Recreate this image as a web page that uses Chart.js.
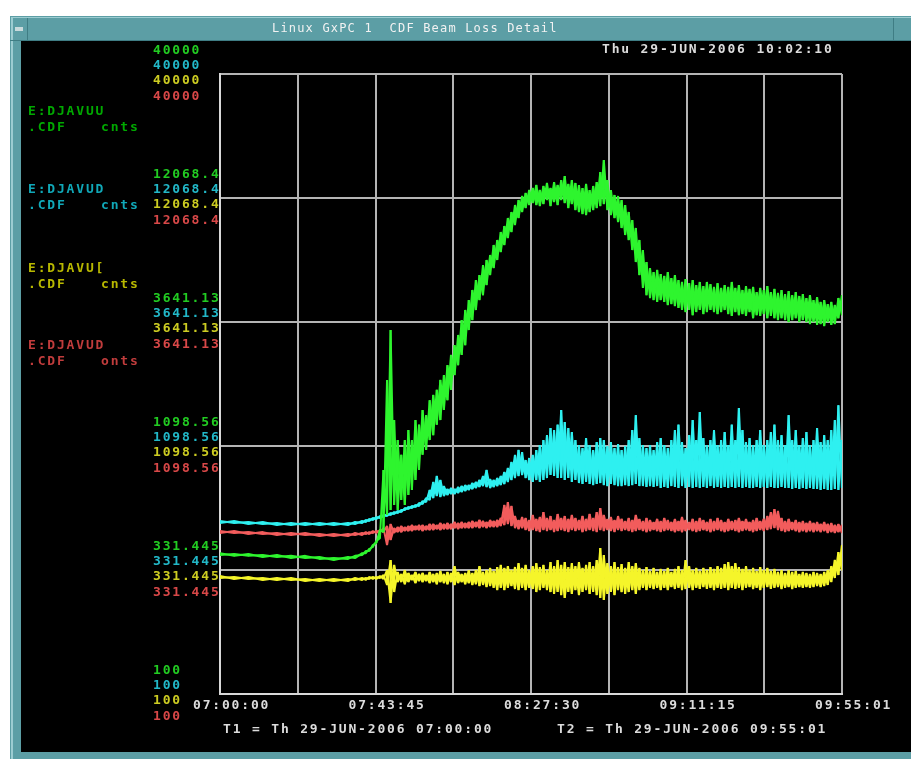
<!DOCTYPE html>
<html>
<head>
<meta charset="utf-8">
<script src="https://cdn.jsdelivr.net/npm/chart.js@4/dist/chart.umd.min.js"></script>
<style>
  html, body { margin: 0; padding: 0; background: #ffffff; overflow: hidden; }
  #wrap { position: relative; width: 911px; height: 759px; }
</style>
</head>
<body>
<div id="wrap"><canvas id="c" width="911" height="759"></canvas></div>
<script>
// Sample times, minutes after T1 (07:00:00). Each sample holds the peak and
// the base reading of the loss monitor over that interval.
const minutes = [
  0,4,8,12,16,20,24,28,32,36,38,
  40,41,42,43,44,45,46,47,48,49,
  50,51,52,53,54,55,56,57,58,59,
  60,61,62,63,64,65,66,67,68,69,
  70,71,72,73,74,75,76,77,78,79,
  80,81,82,83,84,85,86,87,88,89,
  90,91,92,93,94,95,96,97,98,99,
  100,101,102,103,104,105,106,107,108,109,
  110,111,112,113,114,115,116,117,118,119,
  120,121,122,123,124,125,126,127,128,129,
  130,131,132,133,134,135,136,137,138,139,
  140,141,142,143,144,145,146,147,148,149,
  150,151,152,153,154,155,156,157,158,159,
  160,161,162,163,164,165,166,167,168,169,
  170,171,172,173,174,175
];

// E:DJAVUU (green), counts
const greenPeak = [
  390,387,387,383,383,380,380,376,372,376,380,
  390,398,406,422,439,488,871,2080,3370,1412,
  1164,1010,1164,1282,1164,1412,1350,1556,1480,1710,
  1800,1890,2080,2180,2400,2650,2910,3210,3710,4090,
  4500,4960,5460,5730,6310,6630,6950,7660,8040,8680,
  9200,9940,10540,11270,11830,12300,12670,13030,13290,13680,
  13030,13550,13950,13290,14070,13680,14350,14910,13820,14350,
  13950,13680,13290,13820,13030,13550,14070,15500,17410,14350,
  13030,12420,12300,11830,11270,10540,9750,9030,8040,7300,
  6500,6130,5900,6020,5790,5680,5900,5570,5730,5460,
  5360,5510,5300,5460,5200,5360,5150,5360,5250,5110,
  5300,5060,5200,5110,5360,5060,5200,4960,5150,5010,
  5110,4860,5060,4960,5150,4860,5010,4820,4960,4770,
  4910,4720,4860,4680,4770,4590,4720,4500,4630,4420,
  4500,4330,4420,4290,4590,4720
];
const greenBase = [
  383,380,380,376,376,372,372,369,365,369,372,
  383,390,398,414,431,451,478,564,592,621,
  592,652,621,684,718,791,871,1010,1057,1164,
  1220,1350,1412,1556,1710,1890,2180,2400,2650,2910,
  3370,3710,4090,4500,4720,5200,5730,6130,6630,7160,
  7660,8200,8680,9290,9940,10540,10950,11270,11500,11270,
  11160,11380,11830,11160,11600,11270,11830,11500,10950,11380,
  10740,10540,10330,10230,10540,10740,10950,11160,11380,10740,
  10230,9940,9570,9030,8440,8040,7300,6500,5730,5060,
  4720,4590,4500,4420,4500,4420,4290,4330,4250,4170,
  4090,4010,4090,3890,4010,4090,3930,4010,4090,4010,
  3930,4010,4090,3930,3860,4010,3890,3930,3860,4010,
  3780,3890,3860,3930,3780,3860,3780,3710,3780,3710,
  3640,3710,3780,3640,3710,3640,3570,3640,3540,3570,
  3500,3640,3540,3570,3780,3890
];

// E:DJAVUD (cyan), counts
const cyanPeak = [
  532,532,527,527,522,522,522,522,522,522,527,
  532,537,543,548,553,558,564,569,575,580,
  586,592,603,609,615,621,633,645,664,718,
  776,822,791,746,725,732,725,739,746,753,
  753,768,776,791,822,871,798,791,806,822,
  854,888,941,1007,1057,1036,959,978,1007,1057,
  1109,1164,1220,1307,1282,1350,1556,1385,1307,1258,
  1164,1109,1077,1186,1109,1057,1142,1186,1164,1098,
  1142,1077,1120,1057,1098,1164,1282,1480,1186,1109,
  1077,1109,1057,1142,1186,1109,1077,1164,1282,1350,
  1142,1077,1220,1412,1164,1526,1186,1109,1164,1282,
  1109,1164,1258,1109,1350,1164,1586,1282,1142,1186,
  1109,1164,1282,1109,1164,1258,1350,1164,1220,1109,
  1480,1164,1282,1109,1186,1258,1109,1164,1307,1142,
  1220,1164,1282,1412,1630,1164
];
const cyanBase = [
  522,522,517,517,512,512,512,512,512,512,517,
  522,527,532,537,543,548,553,558,564,569,
  575,580,592,597,603,609,615,627,639,652,
  664,678,671,678,684,691,691,698,704,711,
  718,725,732,739,746,739,732,739,746,753,
  761,776,791,806,822,830,806,791,776,791,
  776,791,806,830,822,806,806,791,806,776,
  791,768,761,776,761,753,761,768,753,746,
  761,753,746,746,753,746,753,761,746,746,
  739,746,739,746,732,739,732,746,739,732,
  746,732,739,732,739,732,739,732,746,732,
  739,732,739,732,739,732,739,732,739,732,
  732,739,732,739,732,739,732,732,739,732,
  732,725,732,725,732,725,732,725,725,718,
  725,718,718,725,718,732
];

// E:DJAVUD (red), counts
const redPeak = [
  483,483,478,478,474,474,474,469,469,469,474,
  474,478,478,483,483,488,497,507,517,497,
  502,507,502,507,512,507,512,512,507,517,
  517,512,522,517,522,517,527,522,527,522,
  527,532,527,537,532,527,537,532,537,548,
  621,639,615,558,537,553,548,537,564,543,
  553,580,548,558,537,569,548,558,543,564,
  548,537,558,543,569,548,580,603,564,543,
  553,537,558,543,532,548,537,564,543,532,
  548,537,527,543,532,548,537,527,543,532,
  553,537,527,543,532,548,537,527,543,532,
  548,537,527,543,532,537,548,532,543,527,
  537,548,532,543,558,580,597,586,548,532,
  543,527,537,527,532,522,532,522,527,517,
  527,517,522,512,517,512
];
const redBase = [
  474,474,469,469,465,465,465,460,460,460,465,
  465,469,469,474,474,478,478,422,443,474,
  478,478,483,483,483,488,488,483,488,488,
  488,492,488,492,492,492,497,492,497,497,
  497,497,502,497,502,497,502,502,502,507,
  512,517,507,497,492,497,488,483,488,483,
  478,488,483,488,478,483,488,483,478,488,
  483,488,478,483,488,483,478,488,483,488,
  483,478,488,483,488,483,478,483,488,483,
  478,483,488,483,478,483,488,483,478,483,
  478,483,488,483,478,483,488,483,478,483,
  488,483,478,483,488,483,478,483,488,483,
  478,483,488,483,488,492,497,488,483,478,
  483,488,483,478,483,478,483,478,483,478,
  483,474,478,474,478,474
];

// E:DJAVU[ (yellow), counts
const yellowPeak = [
  313,310,310,307,307,307,304,304,304,304,307,
  307,307,310,310,310,313,316,331,365,348,
  325,319,331,322,316,325,319,322,316,325,
  319,322,328,319,325,322,344,325,319,322,
  331,322,331,344,325,331,338,328,341,348,
  338,344,331,341,354,338,348,331,344,354,
  341,348,331,358,344,365,348,358,341,354,
  344,358,338,348,358,344,365,410,383,354,
  344,358,341,351,338,358,344,354,338,331,
  341,328,338,325,335,328,338,325,335,344,
  331,365,344,331,338,328,338,331,341,335,
  344,338,351,358,344,354,341,335,344,331,
  338,328,341,331,338,328,335,325,331,322,
  331,325,328,319,325,322,319,325,322,319,
  325,331,344,365,394,422
];
const yellowBase = [
  307,304,304,301,301,301,298,298,298,298,301,
  301,301,304,304,304,307,304,287,241,268,
  295,295,289,295,301,292,298,295,298,292,
  295,289,295,292,289,295,287,292,295,289,
  292,287,289,284,287,281,284,279,273,279,
  273,279,284,276,273,279,273,279,276,268,
  273,279,273,268,263,268,260,253,268,263,
  273,260,268,273,263,268,260,253,248,263,
  268,260,273,268,263,268,273,263,273,279,
  273,279,276,279,273,279,273,281,276,279,
  273,276,279,273,279,276,281,276,279,273,
  279,276,279,273,279,276,279,273,279,281,
  276,279,273,279,281,276,279,281,276,279,
  281,276,279,281,279,281,279,281,284,281,
  284,287,295,307,316,331
];

// Vertical axis: log scale, labelled at these counts
const lossTicks = [100, 331.445, 1098.56, 3641.13, 12068.4, 40000];
const lossTickText = ["100", "331.445", "1098.56", "3641.13", "12068.4", "40000"];

// Horizontal axis: T1 .. T2, labelled every two grid divisions
const timeLabels = ["07:00:00", "07:43:45", "08:27:30", "09:11:15", "09:55:01"];
const SPAN_MIN = 10501 / 60;   // 07:00:00 -> 09:55:01
const GRID_DIVS = 8;

const deviceNames = ["E:DJAVUU", "E:DJAVUD", "E:DJAVU[", "E:DJAVUD"];
const deviceUnits = ["cnts", "cnts", "cnts", "onts"];

// trace order: green, cyan, yellow, red
const traceColors = ["#2ef52e", "#2ef0f0", "#f5f52a", "#f25c5c"];
const labelColors = ["#22cc22", "#22b8c8", "#cccc22", "#d84848"];
const nameColors  = ["#00a800", "#10a8b8", "#b8b800", "#c03c3c"];

const MONO = 'bold 13px "DejaVu Sans Mono", "Liberation Mono", monospace';
const ADV = 9.65;

// Each sample becomes a vertical stroke peak<->base; the two passes
// (peak first / base first) cross between samples so the trace reads as
// a dense noisy band.
function toPoints(first, second) {
  const pts = [];
  minutes.forEach((m, i) => {
    pts.push({ x: m, y: first[i] });
    pts.push({ x: m, y: second[i] });
  });
  return pts;
}

function monoText(ctx, text, x, y, adv) {
  for (let i = 0; i < text.length; i++) ctx.fillText(text[i], x + i * adv, y);
}

const framePlugin = {
  id: 'consoleFrame',
  beforeDraw(chart) {
    const ctx = chart.ctx, W = chart.width, H = chart.height;
    ctx.save();
    ctx.fillStyle = '#ffffff';
    ctx.fillRect(0, 0, W, H);
    // window border and title bar
    ctx.fillStyle = '#5c9ea5';
    ctx.fillRect(10, 16, W - 10, H - 16);
    ctx.fillStyle = '#9cccd1';
    ctx.fillRect(11, 17, 2, H - 17);
    ctx.fillRect(11, 17, W - 11, 1);
    ctx.fillStyle = '#3f7d84';
    ctx.fillRect(10, 40, W - 10, 1);
    ctx.fillRect(27, 18, 1, 22);
    ctx.fillRect(893, 18, 1, 22);
    ctx.fillStyle = '#c9dadc';
    ctx.fillRect(15, 27, 8, 4);
    ctx.fillStyle = '#000000';
    ctx.fillRect(21, 41, W - 21, 711);
    ctx.fillStyle = '#f2f2f2';
    ctx.font = '12px "DejaVu Sans Mono", monospace';
    ctx.textBaseline = 'middle';
    monoText(ctx, 'Linux GxPC 1  CDF Beam Loss Detail', 272, 29, 8.4);
    ctx.restore();
  },
  afterDraw(chart) {
    const ctx = chart.ctx;
    const xs = chart.scales.x, ys = chart.scales.y;
    ctx.save();
    ctx.font = MONO;
    ctx.textBaseline = 'middle';
    // stacked tick labels, one per trace
    const offsets = [-23, -8, 7, 23];
    lossTicks.forEach((v, k) => {
      const yp = ys.getPixelForValue(v);
      offsets.forEach((dy, s) => {
        ctx.fillStyle = labelColors[s];
        monoText(ctx, lossTickText[k], 153, yp + dy, ADV);
      });
    });
    // device names
    const nameY = [112, 190, 269, 346];
    deviceNames.forEach((n, s) => {
      ctx.fillStyle = nameColors[s];
      monoText(ctx, n, 28, nameY[s], ADV);
      monoText(ctx, '.CDF', 28, nameY[s] + 16, ADV);
      monoText(ctx, deviceUnits[s], 101, nameY[s] + 16, ADV);
    });
    // time axis
    ctx.fillStyle = '#dcdcdc';
    timeLabels.forEach((t, j) => {
      const xp = xs.getPixelForValue(j * SPAN_MIN / 4);
      monoText(ctx, t, xp - 27, 706, ADV);
    });
    monoText(ctx, 'T1 = Th 29-JUN-2006 07:00:00', 223, 730, ADV);
    monoText(ctx, 'T2 = Th 29-JUN-2006 09:55:01', 557, 730, ADV);
    monoText(ctx, 'Thu 29-JUN-2006 10:02:10', 602, 50, ADV);
    ctx.restore();
  }
};

// drawn top to bottom: green, cyan, red, yellow
const series = [
  { peak: greenPeak, base: greenBase, color: traceColors[0] },
  { peak: cyanPeak, base: cyanBase, color: traceColors[1] },
  { peak: redPeak, base: redBase, color: traceColors[3] },
  { peak: yellowPeak, base: yellowBase, color: traceColors[2] }
];

const datasets = [];
series.forEach(s => {
  datasets.push({ data: toPoints(s.peak, s.base), borderColor: s.color });
  datasets.push({ data: toPoints(s.base, s.peak), borderColor: s.color });
});

new Chart(document.getElementById('c'), {
  type: 'line',
  data: { datasets },
  options: {
    responsive: false,
    animation: false,
    devicePixelRatio: 1,
    layout: { padding: { left: 220, top: 74, right: 69, bottom: 65 } },
    plugins: { legend: { display: false }, tooltip: { enabled: false } },
    elements: {
      line: { borderWidth: 2, tension: 0, fill: false, borderJoinStyle: 'bevel' },
      point: { radius: 0 }
    },
    scales: {
      x: {
        type: 'linear', min: 0, max: SPAN_MIN,
        ticks: { display: false },
        grid: { color: '#b4b4b4', lineWidth: 2, drawTicks: false },
        border: { display: true, color: '#d8d8d8', width: 2 },
        afterBuildTicks(scale) {
          const t = [];
          for (let i = 0; i <= GRID_DIVS; i++) t.push({ value: i * SPAN_MIN / GRID_DIVS });
          scale.ticks = t;
        }
      },
      y: {
        type: 'logarithmic', min: 100, max: 40000,
        ticks: { display: false },
        grid: { color: '#b4b4b4', lineWidth: 2, drawTicks: false },
        border: { display: true, color: '#d8d8d8', width: 2 },
        afterBuildTicks(scale) {
          scale.ticks = lossTicks.map(v => ({ value: v }));
        }
      }
    }
  },
  plugins: [framePlugin]
});
</script>
</body>
</html>
